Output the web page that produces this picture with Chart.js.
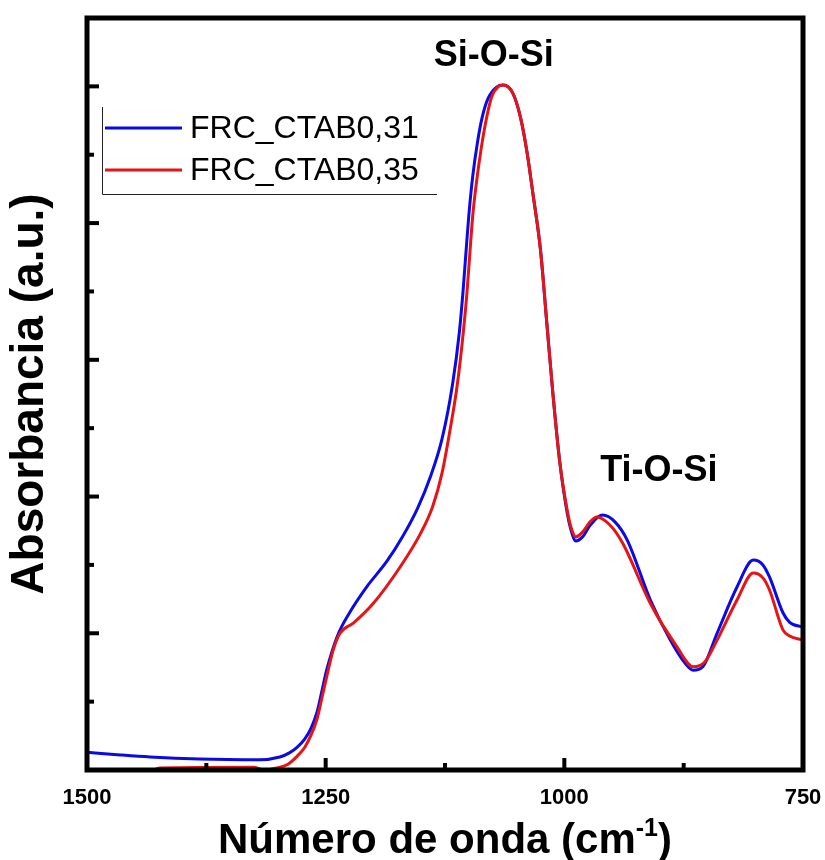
<!DOCTYPE html>
<html>
<head>
<meta charset="utf-8">
<script src="https://cdn.jsdelivr.net/npm/chart.js@4"></script>
<style>
    body { margin: 0; background: #ffffff; }
    #mainContentDivId { width: 825px; height: 860px; }
</style>
</head>
<body>
<div id="mainContentDivId"><canvas id="chartCanvasId" width="825" height="860"></canvas></div>
<script>
// series names
const seriesNames = ["FRC_CTAB0,31", "FRC_CTAB0,35"];
const seriesColors = ["#0a0ae6", "#e61414"];

// FRC_CTAB0,31 (blue) - wavenumber (cm-1) and absorbance (a.u.)
const blueWave = [1500, 1465, 1434, 1382, 1319, 1298, 1288, 1280, 1272, 1265, 1259, 1254, 1249, 1238, 1225, 1207, 1186,
    1170, 1154, 1140, 1128, 1117, 1110, 1106, 1103, 1100, 1096, 1091, 1086, 1080, 1071, 1064, 1054, 1046,
    1039, 1033, 1025, 1018, 1012, 1005, 997, 993, 988, 981, 973, 960, 947, 934, 910, 889, 874, 865,
    855, 840, 819, 802, 792, 785, 771, 764, 750];
const blueAbs = [0.26, 0.22, 0.19, 0.16, 0.15, 0.19, 0.25, 0.33, 0.45, 0.62, 0.85, 1.15, 1.46, 1.95, 2.30, 2.68, 3.05,
    3.40, 3.82, 4.30, 4.85, 5.65, 6.40, 7.02, 7.58, 8.12, 8.68, 9.18, 9.55, 9.82, 9.99, 10.02, 9.90, 9.55,
    9.03, 8.44, 7.61, 6.48, 5.51, 4.53, 3.76, 3.51, 3.35, 3.41, 3.58, 3.73, 3.63, 3.36, 2.49, 1.90, 1.57, 1.46,
    1.51, 2.00, 2.68, 3.07, 3.00, 2.82, 2.30, 2.16, 2.09];

// FRC_CTAB0,35 (red)
const redWave = [1500, 1434, 1424, 1326, 1314, 1301, 1290, 1280, 1272, 1265, 1259, 1254, 1249, 1242, 1235, 1221, 1200, 1172,
    1151, 1138, 1128, 1120, 1112, 1106, 1102, 1099, 1096, 1092, 1087, 1082, 1076, 1069, 1064, 1054, 1046,
    1039, 1033, 1025, 1018, 1012, 1005, 997, 993, 988, 981, 973, 966, 952, 939, 910, 882, 865,
    853, 840, 819, 802, 792, 785, 771, 764, 750];
const redAbs = [-0.07, -0.03, 0.03, 0.04, 0.00, 0.03, 0.08, 0.20, 0.33, 0.52, 0.75, 1.05, 1.36, 1.76, 2.00, 2.15, 2.44, 2.97,
    3.45, 3.85, 4.35, 4.95, 5.65, 6.38, 6.98, 7.55, 8.10, 8.60, 9.10, 9.50, 9.85, 10.00, 10.02, 9.90, 9.55,
    9.03, 8.44, 7.61, 6.48, 5.51, 4.53, 3.80, 3.55, 3.41, 3.48, 3.63, 3.70, 3.58, 3.32, 2.44, 1.80, 1.51,
    1.58, 1.90, 2.49, 2.88, 2.81, 2.63, 2.05, 1.96, 1.90];

// x tick labels (major), minor ticks sit half way
const xTickLabels = [1500, 1250, 1000, 750];

// band labels placed at (wavenumber, absorbance)
const bandNames = ["Si-O-Si", "Ti-O-Si"];
const bandWave = [1074, 901];
const bandAbs = [10.44, 4.37];

const xTitle = "Número de onda (cm";
const xTitleSup = "-1";
const yTitle = "Absorbancia (a.u.)";

let chartCanvas;

window.addEventListener("DOMContentLoaded", init);

function toPoints(xs, ys) {
    return xs.map((x, i) => ({ x: x, y: ys[i] }));
}

const decorPlugin = {
    id: "decor",
    afterDraw(chart) {
        const ctx = chart.ctx;
        const area = chart.chartArea;
        const xs = chart.scales.x;
        const ys = chart.scales.y;
        ctx.save();

        // band labels
        ctx.fillStyle = "#000";
        ctx.font = "bold 36px Arial, 'Liberation Sans', sans-serif";
        ctx.textAlign = "center";
        ctx.textBaseline = "middle";
        for (let i = 0; i < bandNames.length; i++) {
            ctx.fillText(bandNames[i], xs.getPixelForValue(bandWave[i]), ys.getPixelForValue(bandAbs[i]));
        }

        // legend (open box: left and bottom edges only), in dataset index order
        ctx.strokeStyle = "#222";
        ctx.lineWidth = 1;
        ctx.beginPath();
        ctx.moveTo(102.5, 107);
        ctx.lineTo(102.5, 194.5);
        ctx.lineTo(437, 194.5);
        ctx.stroke();
        ctx.font = "32px Arial, 'Liberation Sans', sans-serif";
        ctx.textAlign = "left";
        chart.data.datasets.forEach((ds, i) => {
            const y = 128 + i * 42;
            ctx.strokeStyle = ds.borderColor;
            ctx.lineWidth = 3;
            ctx.beginPath();
            ctx.moveTo(105, y);
            ctx.lineTo(182, y);
            ctx.stroke();
            ctx.fillStyle = "#000";
            ctx.fillText(ds.label, 190, y + 1);
        });

        // frame
        ctx.strokeStyle = "#000";
        ctx.lineWidth = 5;
        ctx.strokeRect(area.left, area.top, area.right - area.left, area.bottom - area.top);

        // inward ticks, y axis
        ctx.lineWidth = 4;
        ctx.lineCap = "butt";
        for (let v = 1; v <= 10; v++) {
            const py = ys.getPixelForValue(v);
            const len = v % 2 === 0 ? 12 : 7;
            ctx.beginPath();
            ctx.moveTo(area.left, py);
            ctx.lineTo(area.left + len, py);
            ctx.stroke();
        }
        // inward ticks, x axis
        xs.ticks.forEach(t => {
            if (t.value <= xs.min || t.value >= xs.max) return;
            const px = xs.getPixelForValue(t.value);
            const len = t.value % 250 === 0 ? 12 : 7;
            ctx.beginPath();
            ctx.moveTo(px, area.bottom);
            ctx.lineTo(px, area.bottom - len);
            ctx.stroke();
        });

        // x title with superscript
        const big = "bold 42px Arial, 'Liberation Sans', sans-serif";
        const small = "bold 25px Arial, 'Liberation Sans', sans-serif";
        ctx.fillStyle = "#000";
        ctx.textBaseline = "alphabetic";
        ctx.textAlign = "left";
        ctx.font = big;
        const w1 = ctx.measureText(xTitle).width;
        const w3 = ctx.measureText(")").width;
        ctx.font = small;
        const w2 = ctx.measureText(xTitleSup).width;
        const cx = (area.left + area.right) / 2;
        let x0 = cx - (w1 + w2 + w3) / 2;
        const base = 853;
        ctx.font = big;
        ctx.fillText(xTitle, x0, base);
        ctx.font = small;
        ctx.fillText(xTitleSup, x0 + w1, base - 17);
        ctx.font = big;
        ctx.fillText(")", x0 + w1 + w2, base);

        // y title
        ctx.translate(30, (area.top + area.bottom) / 2);
        ctx.rotate(-Math.PI / 2);
        ctx.font = "bold 46px Arial, 'Liberation Sans', sans-serif";
        ctx.textAlign = "center";
        ctx.textBaseline = "middle";
        ctx.fillText(yTitle, 0, 0);

        ctx.restore();
    }
};

function init() {
    chartCanvas = document.getElementById("chartCanvasId");

    new Chart(chartCanvas, {
        type: "line",
        data: {
            datasets: [{
                label: seriesNames[0],
                data: toPoints(blueWave, blueAbs),
                borderColor: seriesColors[0],
                borderWidth: 3,
                pointRadius: 0,
                cubicInterpolationMode: "monotone",
                fill: false,
                order: 1
            }, {
                label: seriesNames[1],
                data: toPoints(redWave, redAbs),
                borderColor: seriesColors[1],
                borderWidth: 3,
                pointRadius: 0,
                cubicInterpolationMode: "monotone",
                fill: false,
                order: 0
            }]
        },
        options: {
            responsive: false,
            animation: false,
            events: [],
            layout: { padding: { top: 18, right: 22, left: 0, bottom: 0 } },
            plugins: {
                legend: { display: false },
                tooltip: { enabled: false }
            },
            scales: {
                x: {
                    type: "linear",
                    reverse: true,
                    min: 750,
                    max: 1500,
                    grid: { display: false, drawTicks: false },
                    border: { display: false },
                    ticks: {
                        stepSize: 125,
                        autoSkip: false,
                        maxRotation: 0,
                        padding: 15,
                        color: "#000",
                        font: { family: "Arial, 'Liberation Sans', sans-serif", size: 22, weight: "bold" },
                        callback: v => xTickLabels.includes(v) ? String(v) : ""
                    },
                    afterFit: scale => {
                        scale.height = 90;
                        scale.paddingLeft = 0;
                        scale.paddingRight = 0;
                    }
                },
                y: {
                    min: 0,
                    max: 11,
                    grid: { display: false, drawTicks: false },
                    border: { display: false },
                    ticks: { display: false, stepSize: 1 },
                    afterFit: scale => { scale.width = 87; }
                }
            }
        },
        plugins: [decorPlugin]
    });
}
</script>
</body>
</html>
